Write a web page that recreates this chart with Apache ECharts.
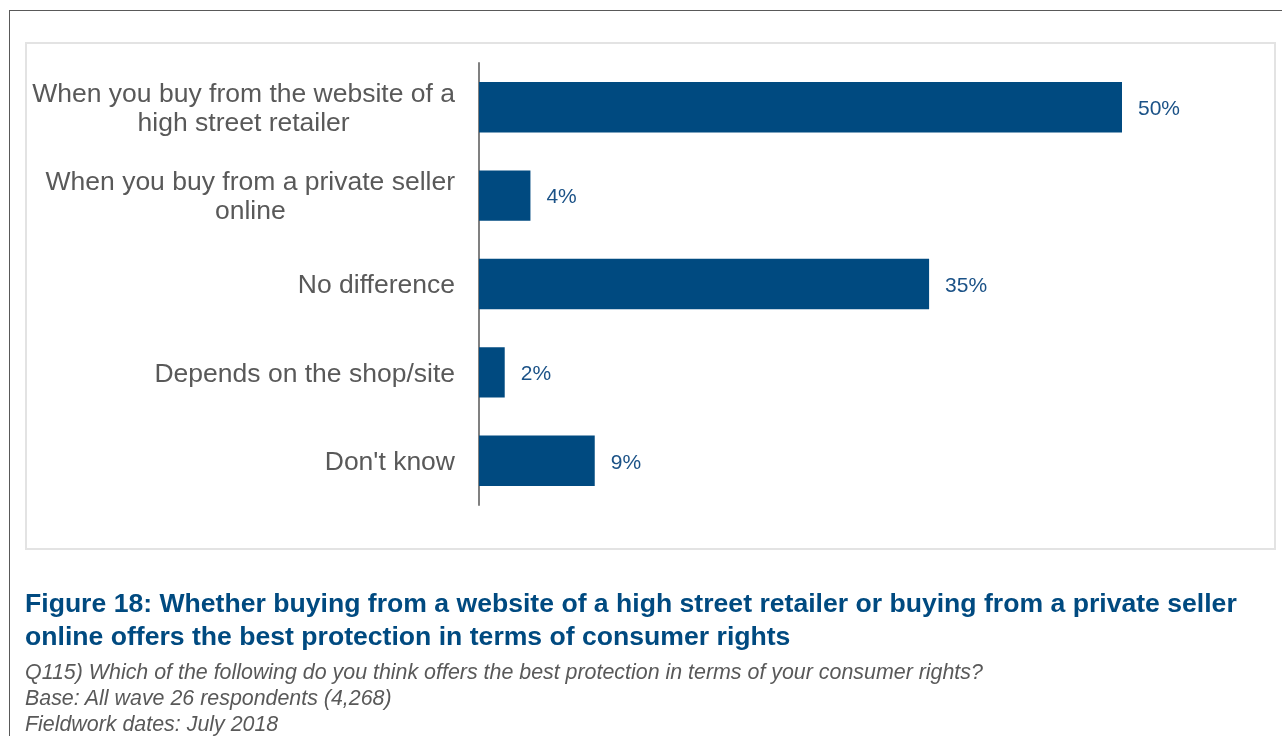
<!DOCTYPE html>
<html>
<head>
<meta charset="utf-8">
<script src="https://cdn.jsdelivr.net/npm/echarts@6/dist/echarts.min.js"></script>
<style>
  html, body { margin: 0; padding: 0; background: #ffffff; }
  #page { position: relative; width: 1282px; height: 736px; overflow: hidden; }
  #frame { position: absolute; left: 9px; top: 10px; width: 1290px; height: 800px;
           border-top: 1px solid #595959; border-left: 1px solid #595959; }
  #chart { position: absolute; left: 0; top: 0; width: 1282px; height: 736px; }
  #caption { position: absolute; left: 25px; top: 587px; font-family: "Liberation Sans", Arial, sans-serif; }
  #caption .title { color: #004a80; font-weight: bold; font-size: 26.6px; line-height: 33px; margin: 0; white-space: nowrap; }
  #caption .note { color: #595959; font-style: italic; font-size: 21.4px; line-height: 26px; margin: 0; white-space: nowrap; }
  #caption .first { margin-top: 6px; }
</style>
</head>
<body>
<div id="page">
  <div id="frame"></div>
  <div id="chart"></div>
  <div id="caption">
    <p class="title">Figure 18: Whether buying from a website of a high street retailer or buying from a private seller<br>online offers the best protection in terms of consumer rights</p>
    <p class="note first">Q115) Which of the following do you think offers the best protection in terms of your consumer rights?</p>
    <p class="note">Base: All wave 26 respondents (4,268)</p>
    <p class="note">Fieldwork dates: July 2018</p>
  </div>
</div>
<script>
// Answer options, top to bottom
const categories = [
  'When you buy from the website of a\nhigh street retailer',
  'When you buy from a private seller\nonline',
  'No difference',
  'Depends on the shop/site',
  "Don't know"
];
// Share of respondents, %
const shares = [50, 4, 35, 2, 9];

const chart = echarts.init(document.getElementById('chart'));
chart.setOption({
  animation: false,
  textStyle: { fontFamily: '"Liberation Sans", Arial, sans-serif' },
  graphic: [{
    type: 'rect',
    shape: { x: 26, y: 43, width: 1249, height: 506 },
    style: { fill: 'none', stroke: '#e3e3e3', lineWidth: 2 }
  }],
  grid: { left: 479, top: 63, width: 643, height: 442, containLabel: false },
  xAxis: { type: 'value', min: 0, max: 50, show: false },
  yAxis: {
    type: 'category',
    data: categories,
    inverse: true,
    axisLine: { show: true, lineStyle: { color: '#808080', width: 2 } },
    axisTick: { show: false },
    axisLabel: {
      margin: 24,
      fontSize: 26.5,
      color: '#595959',
      lineHeight: 29,
      padding: [4, 0, 0, 0],
      formatter: v => v.split('\n').map(s => '{c|' + s + '}').join('\n'),
      rich: { c: { align: 'center', fontSize: 26.5, color: '#595959', lineHeight: 29 } }
    }
  },
  series: [{
    type: 'bar',
    data: shares,
    barCategoryGap: '43%',
    itemStyle: { color: '#004a80' },
    label: {
      show: true,
      position: 'right',
      distance: 16,
      offset: [0, 2],
      fontSize: 21,
      color: '#1b5287',
      formatter: p => p.value + '%'
    }
  }]
});
</script>
</body>
</html>
